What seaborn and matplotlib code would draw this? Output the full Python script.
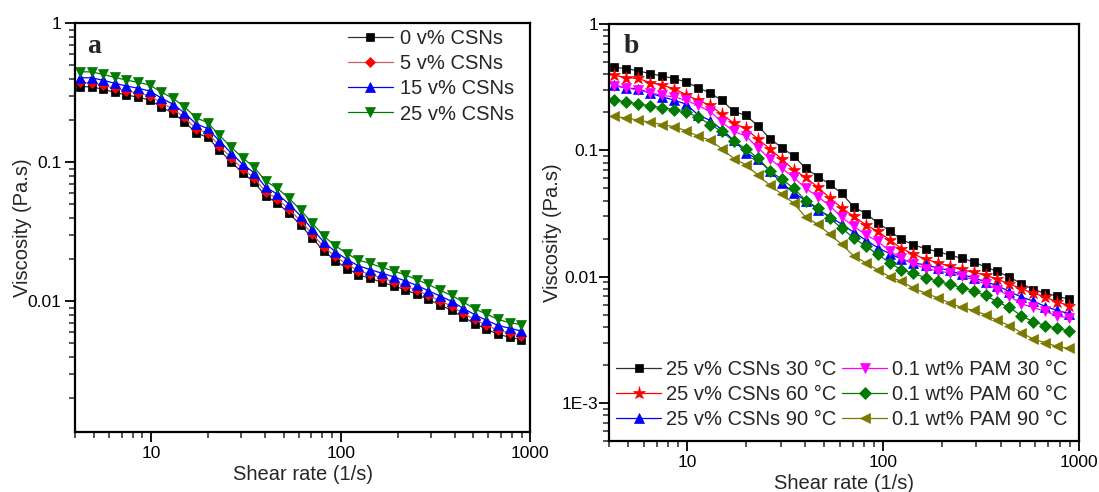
import numpy as np
import matplotlib
matplotlib.use("Agg")
import matplotlib.pyplot as plt
from matplotlib.ticker import LogLocator, NullFormatter, FixedLocator, FixedFormatter
import seaborn as sns

sns.set_style("ticks")
plt.rcParams['font.family'] = ['Liberation Sans', 'DejaVu Sans']

# ---------------- data ----------------
shear_rate = [4.23, 4.87, 5.60, 6.45, 7.43, 8.55, 9.84, 11.3, 13.1, 15.0, 17.3, 19.9,
              22.9, 26.4, 30.4, 35.0, 40.3, 46.4, 53.4, 61.5, 70.8, 81.5, 93.8, 108,
              124, 143, 165, 190, 219, 252, 290, 334, 384, 442, 509, 586, 675, 777, 895]

# panel a
csn0 = [0.350, 0.349, 0.335, 0.319, 0.305, 0.294, 0.281, 0.251, 0.225, 0.196, 0.163, 0.151,
        0.123, 0.101, 0.084, 0.072, 0.057, 0.051, 0.043, 0.0354, 0.0285, 0.0230, 0.0196,
        0.0172, 0.0155, 0.0146, 0.0137, 0.0129, 0.0121, 0.0112, 0.0103, 0.0094, 0.0086,
        0.0077, 0.0069, 0.0063, 0.0058, 0.0055, 0.0053]
csn5 = [0.375, 0.373, 0.358, 0.341, 0.326, 0.315, 0.301, 0.269, 0.241, 0.210, 0.174, 0.162,
        0.132, 0.108, 0.090, 0.077, 0.061, 0.0546, 0.046, 0.0379, 0.0305, 0.0246, 0.0210,
        0.0184, 0.0166, 0.0156, 0.0147, 0.0138, 0.0129, 0.0120, 0.0110, 0.0101, 0.0092,
        0.0082, 0.0074, 0.0067, 0.0062, 0.0059, 0.0056]
csn15 = [0.406, 0.405, 0.389, 0.370, 0.354, 0.341, 0.326, 0.291, 0.261, 0.227, 0.189, 0.175,
         0.143, 0.117, 0.097, 0.084, 0.066, 0.059, 0.050, 0.0411, 0.0331, 0.0267, 0.0227,
         0.0200, 0.0180, 0.0169, 0.0159, 0.0150, 0.0140, 0.0130, 0.0119, 0.0109, 0.0100,
         0.0089, 0.0080, 0.0073, 0.0067, 0.0064, 0.0061]
csn25 = [0.448, 0.447, 0.429, 0.408, 0.390, 0.376, 0.360, 0.321, 0.288, 0.251, 0.209, 0.193,
         0.157, 0.129, 0.108, 0.092, 0.073, 0.065, 0.055, 0.0453, 0.0365, 0.0294, 0.0251,
         0.0220, 0.0198, 0.0187, 0.0175, 0.0165, 0.0155, 0.0143, 0.0132, 0.0120, 0.0110,
         0.0099, 0.0088, 0.0081, 0.0074, 0.0070, 0.0068]
labels_a = ["0 v% CSNs", "5 v% CSNs", "15 v% CSNs", "25 v% CSNs"]

# panel b
csn_30 = [0.453, 0.444, 0.426, 0.405, 0.388, 0.370, 0.348, 0.314, 0.284, 0.249, 0.203, 0.189,
          0.157, 0.124, 0.105, 0.090, 0.072, 0.062, 0.054, 0.0456, 0.0357, 0.0316, 0.0268,
          0.0230, 0.0197, 0.0179, 0.0166, 0.0158, 0.0148, 0.0140, 0.0131, 0.0119, 0.0110,
          0.0099, 0.0088, 0.0079, 0.0074, 0.0070, 0.0066]
csn_60 = [0.393, 0.376, 0.371, 0.344, 0.328, 0.308, 0.276, 0.249, 0.227, 0.193, 0.164, 0.149,
          0.123, 0.103, 0.085, 0.070, 0.061, 0.051, 0.042, 0.035, 0.030, 0.0258, 0.0228,
          0.0196, 0.0167, 0.0151, 0.0137, 0.0129, 0.0121, 0.0114, 0.0108, 0.0103, 0.0095,
          0.0088, 0.0080, 0.0074, 0.0069, 0.0063, 0.0059]
csn_90 = [0.330, 0.310, 0.308, 0.283, 0.265, 0.250, 0.232, 0.192, 0.172, 0.146, 0.120, 0.096,
          0.085, 0.069, 0.055, 0.046, 0.040, 0.034, 0.030, 0.026, 0.0225, 0.0195, 0.0170,
          0.0152, 0.0138, 0.0128, 0.0124, 0.0117, 0.0112, 0.0104, 0.0098, 0.0091, 0.0085,
          0.0076, 0.0069, 0.0064, 0.0058, 0.0054, 0.0051]
pam_30 = [0.322, 0.314, 0.299, 0.286, 0.272, 0.265, 0.249, 0.227, 0.203, 0.167, 0.141, 0.130,
          0.105, 0.086, 0.072, 0.061, 0.050, 0.043, 0.0365, 0.0295, 0.0250, 0.0215, 0.0190,
          0.0160, 0.0140, 0.0126, 0.0116, 0.0111, 0.0107, 0.0102, 0.0094, 0.0088, 0.0079,
          0.0070, 0.0061, 0.0057, 0.0053, 0.0049, 0.0047]
pam_60 = [0.252, 0.241, 0.234, 0.224, 0.218, 0.210, 0.201, 0.184, 0.160, 0.141, 0.118, 0.103,
          0.087, 0.069, 0.059, 0.050, 0.040, 0.035, 0.029, 0.0242, 0.0202, 0.0175, 0.0150,
          0.0129, 0.0113, 0.0106, 0.0098, 0.0092, 0.0087, 0.0082, 0.0077, 0.0071, 0.0063,
          0.0057, 0.0049, 0.0044, 0.0041, 0.0039, 0.0037]
pam_90 = [0.186, 0.180, 0.174, 0.167, 0.160, 0.154, 0.143, 0.130, 0.120, 0.103, 0.086, 0.077,
          0.064, 0.053, 0.045, 0.038, 0.0295, 0.026, 0.0217, 0.0180, 0.0146, 0.0129, 0.0113,
          0.0100, 0.0092, 0.0081, 0.0074, 0.0068, 0.0062, 0.0057, 0.0054, 0.0050, 0.0045,
          0.0041, 0.0036, 0.0032, 0.0030, 0.0028, 0.0027]
labels_b = ["25 v% CSNs 30 °C", "25 v% CSNs 60 °C", "25 v% CSNs 90 °C",
            "0.1 wt% PAM 30 °C", "0.1 wt% PAM 60 °C", "0.1 wt% PAM 90 °C"]

x_ticks = [10, 100, 1000]
x_ticklabels = ["10", "100", "1000"]

# ---------------- figure ----------------
fig = plt.figure(figsize=(10.99, 4.92), dpi=100)
axA = fig.add_axes([75.4/1099, 1-432.3/492, 455/1099, 409/492])
axB = fig.add_axes([609.4/1099, 1-441/492, 469.4/1099, 417/492])


def draw(ax, y, color, marker, ms, label, lcolor=None):
    sns.lineplot(x=shear_rate, y=y, ax=ax, color=lcolor or color, marker=marker,
                 markersize=ms, markerfacecolor=color, markeredgecolor=color,
                 markeredgewidth=0.5, linewidth=0.9, label=label, estimator=None,
                 sort=False)


# panel a
draw(axA, csn0, "black", "s", 6, labels_a[0], "#303030")
draw(axA, csn5, "#ff0000", "D", 5.5, labels_a[1], "#c06060")
draw(axA, csn15, "#0000ff", "^", 7, labels_a[2])
draw(axA, csn25, "#007a00", "v", 7, labels_a[3])

# panel b
draw(axB, csn_30, "black", "s", 6.3, labels_b[0], "#303030")
draw(axB, csn_60, "#ff0000", "*", 9.5, labels_b[1])
draw(axB, csn_90, "#0000ff", "^", 7.3, labels_b[2])
draw(axB, pam_30, "#ff00ff", "v", 7.3, labels_b[3])
draw(axB, pam_60, "#007a00", "D", 5.8, labels_b[4])
draw(axB, pam_90, "#7a7a00", "<", 7.3, labels_b[5])

for ax, ylo, yt, ytl in [(axA, 0.00114, [0.01, 0.1, 1], ["0.01", "0.1", "1"]),
                         (axB, 0.0005, [0.001, 0.01, 0.1, 1], ["1E-3", "0.01", "0.1", "1"])]:
    ax.set_xscale("log")
    ax.set_yscale("log")
    ax.set_xlim(4, 1000)
    ax.set_ylim(ylo, 1)
    ax.xaxis.set_major_locator(FixedLocator(x_ticks))
    ax.xaxis.set_major_formatter(FixedFormatter(x_ticklabels))
    ax.xaxis.set_minor_locator(LogLocator(base=10, subs=np.arange(2, 10), numticks=20))
    ax.xaxis.set_minor_formatter(NullFormatter())
    ax.yaxis.set_major_locator(FixedLocator(yt))
    ax.yaxis.set_major_formatter(FixedFormatter(ytl))
    ax.yaxis.set_minor_locator(LogLocator(base=10, subs=np.arange(2, 10), numticks=20))
    ax.yaxis.set_minor_formatter(NullFormatter())
    ax.tick_params(which="major", direction="out", length=7, width=1.3, labelsize=12.5,
                   top=False, right=False, colors="black", pad=3)
    ax.tick_params(which="minor", direction="out", length=4, width=1.1,
                   top=False, right=False)
    for s in ax.spines.values():
        s.set_linewidth(1.6)
        s.set_color("black")
        s.set_visible(True)
    ax.set_xlabel("Shear rate (1/s)", fontsize=14.5, labelpad=3)
    ax.grid(False)

axB.tick_params(axis="y", which="major", pad=1)

axA.set_ylabel("Viscosity (Pa.s)", fontsize=14.5, labelpad=-3)
axB.set_ylabel("Viscosity (Pa.s)", fontsize=14.5, labelpad=0)

axA.text(0.025, 0.975, "a", transform=axA.transAxes, fontsize=20, fontweight="bold",
         family="Liberation Serif", va="top", ha="left")
axB.text(0.030, 0.975, "b", transform=axB.transAxes, fontsize=20, fontweight="bold",
         family="Liberation Serif", va="top", ha="left")

axA.legend(loc="upper left", bbox_to_anchor=(0.594, 0.99), frameon=False, fontsize=14.5,
           handlelength=2.24, handletextpad=0.36, labelspacing=0.3, borderpad=0.1,
           borderaxespad=0)
axB.legend(loc="lower left", bbox_to_anchor=(0.01, 0.025), frameon=False, fontsize=14.5,
           ncol=2, handlelength=2.24, handletextpad=0.25, labelspacing=0.28,
           columnspacing=0.28, borderpad=0.1, borderaxespad=0)

fig.savefig("out.png", dpi=100)
